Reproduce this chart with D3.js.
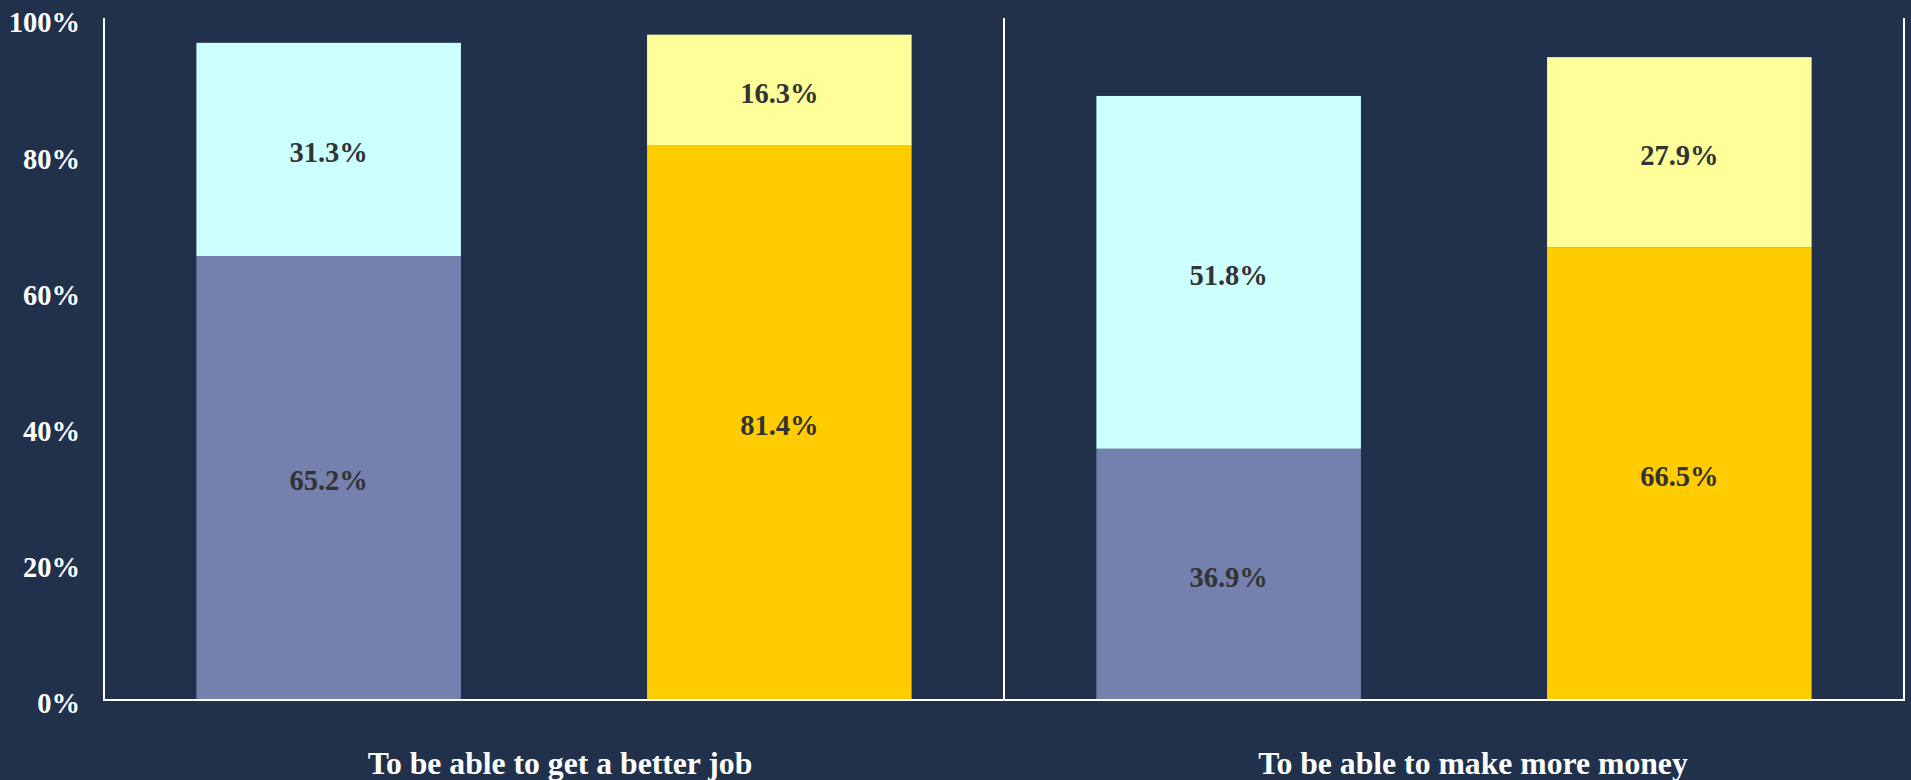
<!DOCTYPE html>
<html>
<head>
<meta charset="utf-8">
<script src="https://cdn.jsdelivr.net/npm/d3@7"></script>
<style>
  html, body { margin: 0; padding: 0; background: #21314C; }
  svg { display: block; }
</style>
</head>
<body>
<svg id="chart" width="1911" height="780"></svg>
<script>
// ---- data ----
const categories = ["To be able to get a better job", "To be able to make more money"];
const barGroups = ["A", "B"];
const lowerValues = [[65.2, 81.4], [36.9, 66.5]];
const upperValues = [[31.3, 16.3], [51.8, 27.9]];
const yTicks = [0, 20, 40, 60, 80, 100];

// ---- styles ----
const lowerColors = ["#7480AD", "#FFCC00"];
const upperColors = ["#CCFFFF", "#FFFF99"];
const bgColor = "#21314C";
const font = "'Liberation Serif', 'Times New Roman', serif";
const catLabelShift = [6, 19];

const svg = d3.select("#chart");
svg.append("rect").attr("width", 1911).attr("height", 780).attr("fill", bgColor);

const plotLeft = 104, plotRight = 1904, plotTop = 18, plotBottom = 700;

const x0 = d3.scaleBand().domain(categories).range([plotLeft, plotRight]).padding(0);
const x1 = d3.scaleBand().domain(barGroups).range([0, x0.bandwidth()])
  .paddingInner(0.413).paddingOuter(0.205);
const y = d3.scaleLinear().domain([0, 100]).range([plotBottom, 19]);

const g = svg.append("g");
const fmt = v => v.toFixed(1) + "%";

categories.forEach((cat, ci) => {
  barGroups.forEach((grp, bi) => {
    const lo = lowerValues[ci][bi], up = upperValues[ci][bi];
    const bx = x0(cat) + x1(grp);
    const bw = x1.bandwidth();
    g.append("rect").attr("x", bx).attr("width", bw)
      .attr("y", y(lo)).attr("height", y(0) - y(lo)).attr("fill", lowerColors[bi]);
    g.append("rect").attr("x", bx).attr("width", bw)
      .attr("y", y(lo + up)).attr("height", y(lo) - y(lo + up)).attr("fill", upperColors[bi]);
    g.append("text").attr("x", bx + bw / 2).attr("y", (y(0) + y(lo)) / 2 + 3)
      .attr("text-anchor", "middle").attr("dominant-baseline", "central")
      .attr("fill", "#333333").attr("font-family", font).attr("font-weight", "bold")
      .attr("font-size", 28.5).text(fmt(lo));
    g.append("text").attr("x", bx + bw / 2).attr("y", (y(lo) + y(lo + up)) / 2 + 3)
      .attr("text-anchor", "middle").attr("dominant-baseline", "central")
      .attr("fill", "#333333").attr("font-family", font).attr("font-weight", "bold")
      .attr("font-size", 28.5).text(fmt(up));
  });
});

// y axis labels
const yAxis = d3.axisLeft(y).tickValues(yTicks).tickFormat(d => d + "%").tickSize(0).tickPadding(24);
const ya = svg.append("g").attr("transform", `translate(${plotLeft},0)`).call(yAxis);
ya.select(".domain").remove();
ya.selectAll("text").attr("fill", "#FFFFFF").attr("font-family", font)
  .attr("font-weight", "bold").attr("font-size", 28.5).attr("dy", "0.45em");

// frame lines: left axis, panel dividers, bottom
const lineColor = "#FFFFFF";
const xs = [plotLeft].concat(categories.map(c => x0(c) + x0.bandwidth()));
xs.forEach(xv => {
  svg.append("line").attr("x1", xv).attr("x2", xv).attr("y1", plotTop).attr("y2", plotBottom)
    .attr("stroke", lineColor).attr("stroke-width", 2);
});
svg.append("line").attr("x1", plotLeft - 1).attr("x2", plotRight + 1).attr("y1", plotBottom).attr("y2", plotBottom)
  .attr("stroke", lineColor).attr("stroke-width", 2);

// category labels
const xAxis = d3.axisBottom(x0).tickSize(0).tickPadding(0);
const xa = svg.append("g").attr("transform", `translate(0,${plotBottom})`).call(xAxis);
xa.select(".domain").remove();
xa.selectAll("text").attr("fill", "#FFFFFF").attr("font-family", font)
  .attr("font-weight", "bold").attr("font-size", 31.7).attr("y", 74).attr("dy", 0)
  .attr("dx", (d, i) => catLabelShift[i]);
</script>
</body>
</html>
